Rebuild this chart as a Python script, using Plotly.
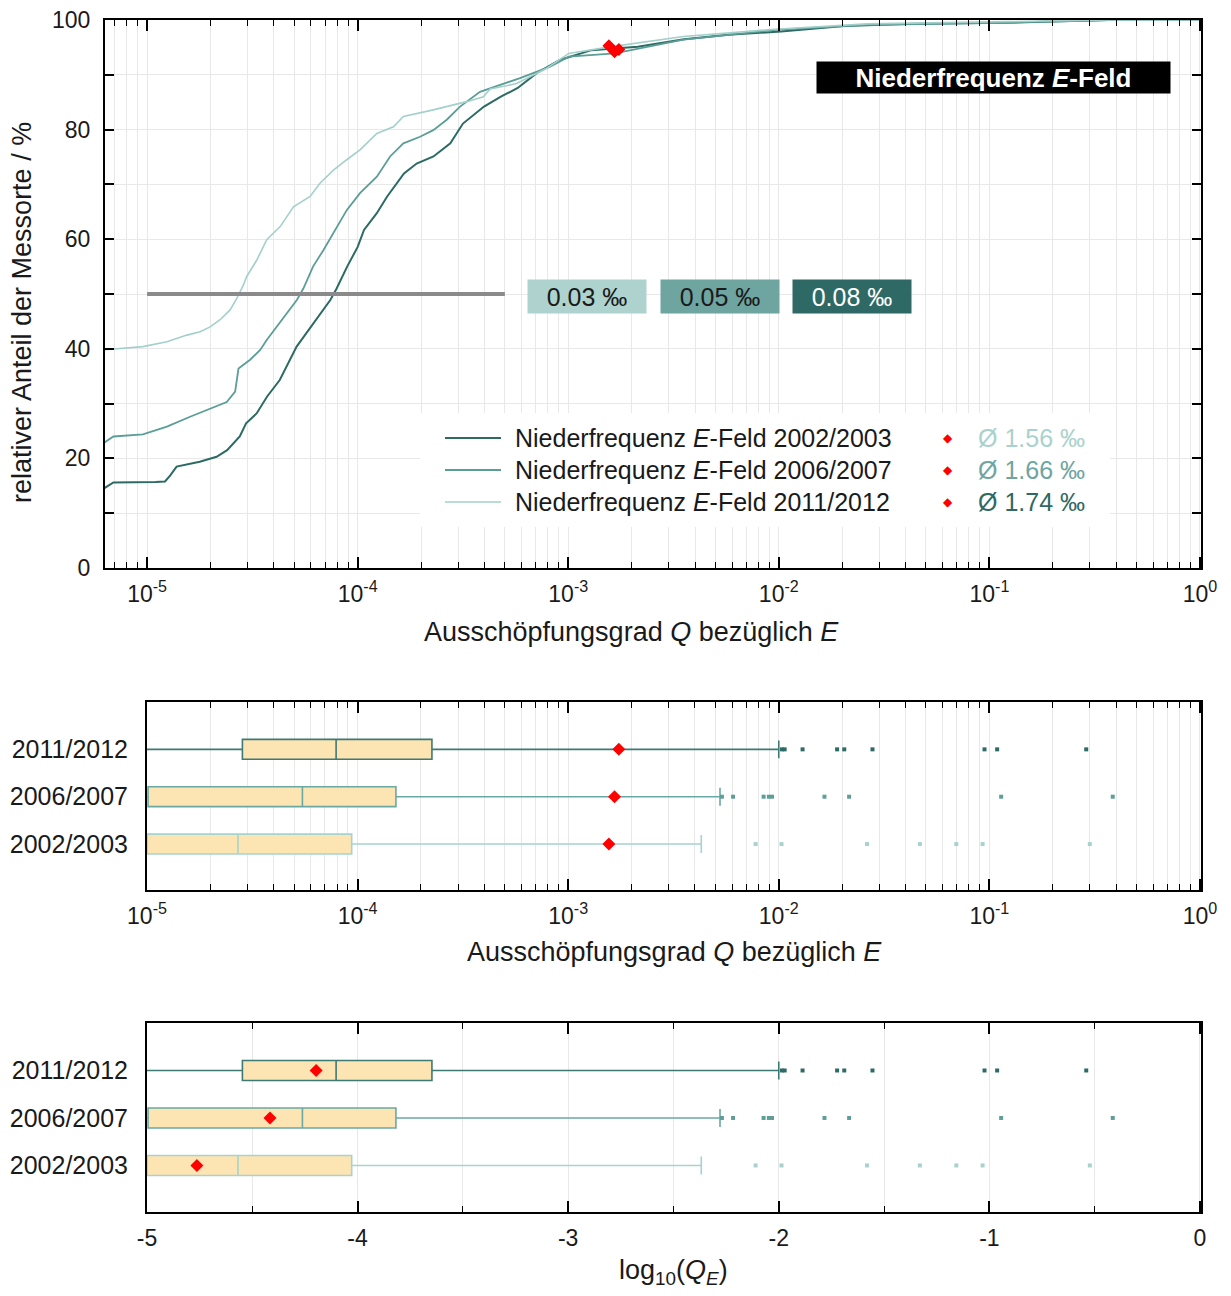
import plotly.graph_objects as go

W, H = 1231, 1296

# ---------------- data ----------------
years = ["2002/2003", "2006/2007", "2011/2012"]

# top panel: cumulative curves, log10(Q) and percent of sites
cdf_a_logq = [-5.21, -5.16, -4.96, -4.915, -4.89, -4.86, -4.75, -4.67, -4.62, -4.56, -4.53, -4.48, -4.43,
              -4.37, -4.29, -4.21, -4.13, -4.10, -4.05, -4.00, -3.97, -3.91, -3.86, -3.78, -3.72, -3.64,
              -3.56, -3.50, -3.40, -3.32, -3.24, -3.15, -3.04, -2.89, -2.67, -2.45, -2.24, -1.99, -1.69,
              -1.36, -0.93, -0.43, 0.0]
cdf_a_pct = [14.4, 15.6, 15.7, 15.8, 16.9, 18.5, 19.4, 20.3, 21.5, 24.0, 26.4, 28.2, 31.3, 34.3, 40.4,
             44.7, 48.9, 51.0, 55.0, 58.6, 61.7, 64.7, 67.8, 72.0, 73.8, 75.1, 77.5, 81.1, 84.2, 86.0,
             87.6, 90.3, 92.7, 94.5, 95.1, 96.5, 97.3, 97.9, 98.9, 99.3, 99.5, 100, 100]

cdf_b_logq = [-5.21, -5.16, -5.02, -4.906, -4.796, -4.701, -4.622, -4.582, -4.566, -4.511, -4.463, -4.432,
              -4.384, -4.345, -4.289, -4.258, -4.212, -4.163, -4.115, -4.052, -3.989, -3.909, -3.846,
              -3.783, -3.704, -3.641, -3.577, -3.514, -3.419, -3.324, -3.229, -3.086, -2.997, -2.779,
              -2.453, -2.018, -1.581, -0.928, -0.43, 0.0]
cdf_b_pct = [22.7, 24.0, 24.4, 25.8, 27.6, 29.1, 30.3, 32.2, 36.4, 38.0, 39.8, 41.6, 44.0, 45.9, 48.9,
             51.0, 55.0, 58.0, 61.1, 65.3, 68.4, 71.4, 75.1, 77.5, 78.7, 79.9, 81.8, 84.2, 86.9, 88.1,
             89.4, 91.5, 93.3, 93.9, 96.4, 98.2, 99.1, 99.5, 100, 100]

cdf_c_logq = [-5.21, -5.02, -4.906, -4.811, -4.748, -4.701, -4.653, -4.606, -4.574, -4.543, -4.527, -4.479,
              -4.432, -4.368, -4.305, -4.226, -4.179, -4.115, -4.052, -3.989, -3.909, -3.830, -3.783,
              -3.641, -3.482, -3.403, -3.371, -3.245, -3.102, -2.997, -2.802, -2.453, -2.018, -1.581,
              -0.928, -0.43, 0.0]
cdf_c_pct = [39.8, 40.4, 41.3, 42.5, 43.1, 44.0, 45.3, 47.1, 49.2, 51.6, 53.2, 56.2, 59.9, 62.3, 65.9,
             67.8, 70.2, 72.6, 74.5, 76.3, 79.3, 80.5, 82.4, 83.6, 85.1, 86.0, 87.4, 88.4, 91.2, 93.9,
             95.1, 97.0, 98.3, 99.3, 99.7, 100, 100]

median_line_q = [1e-5, 5e-4]
median_line_pct = [50, 50]
median_labels = ["0.03 ‰", "0.05 ‰", "0.08 ‰"]

mean_q = [1.56e-3, 1.66e-3, 1.74e-3]          # per year (2002/03, 2006/07, 2011/12)
mean_pct_top = [95.3, 94.2, 94.6]
mean_labels = ["Ø 1.56 ‰", "Ø 1.66 ‰", "Ø 1.74 ‰"]

# box statistics in log10(Q), order: 2002/2003, 2006/2007, 2011/2012
box_pos = [0, 1, 2]
box_lower = [-5.3, -5.3, -5.3]
box_q1 = [-5.0, -4.995, -4.547]
box_median = [-4.568, -4.262, -4.102]
box_q3 = [-4.028, -3.818, -3.647]
box_upper = [-2.368, -2.279, -2.0]
mean_log = [-4.763, -4.416, -4.197]

outliers_log = [
    [-2.110, -1.987, -1.581, -1.330, -1.157, -1.032, -0.523],
    [-2.270, -2.217, -2.072, -2.047, -2.032, -1.783, -1.666, -0.944, -0.414],
    [-1.985, -1.972, -1.887, -1.723, -1.689, -1.555, -1.023, -0.963, -0.540],
]

decades = [-5, -4, -3, -2, -1, 0]

# ---------------- styles ----------------
FONT = "Liberation Sans, Arial, sans-serif"
TXT = "#1a1a1a"
DARK, MED, LIGHT = "#2c6a64", "#5b9e97", "#a3d0ca"
curve_colors = [DARK, MED, LIGHT]
curve_widths = [2.0, 1.8, 1.6]
box_line_colors = ["#a6d3ce", "#6aa9a3", "#3d7a74"]
outlier_colors = ["#a9d2cd", "#5f9e98", "#2f6b66"]
BOXFILL = "#fde4b3"
GRID = "#e8e8e8"
label_bg = ["#aed3cf", "#6fa5a0", "#2f6965"]
label_fg = [TXT, TXT, "white"]
mean_fg = ["#a9d2cd", "#6fa5a0", "#2f6965"]


def fx(px):
    return px / W


def fy(py):
    return 1 - py / H


fig = go.Figure()

# ---------- top panel ----------
cdfs = [(cdf_a_logq, cdf_a_pct), (cdf_b_logq, cdf_b_pct), (cdf_c_logq, cdf_c_pct)]
for (lq, pc), col, lw in zip(cdfs, curve_colors, curve_widths):
    fig.add_trace(go.Scatter(x=[10 ** v for v in lq], y=pc, mode="lines",
                             line=dict(color=col, width=lw), xaxis="x", yaxis="y",
                             showlegend=False, hoverinfo="skip"))

fig.add_trace(go.Scatter(x=median_line_q, y=median_line_pct, mode="lines",
                         line=dict(color="#8a8a8a", width=4), xaxis="x", yaxis="y",
                         showlegend=False))
fig.add_trace(go.Scatter(x=mean_q, y=mean_pct_top, mode="markers",
                         marker=dict(symbol="diamond", size=10, color="#ff0000"),
                         xaxis="x", yaxis="y", showlegend=False))

# ---------- middle (log Q) and bottom (log10 Q) panels ----------
for i in range(3):
    for ax_x, ax_y, conv in (("x2", "y2", lambda v: 10 ** v), ("x3", "y3", lambda v: v)):
        fig.add_trace(go.Box(
            y=[box_pos[i]], q1=[conv(box_q1[i])], median=[conv(box_median[i])],
            q3=[conv(box_q3[i])], lowerfence=[conv(box_lower[i])], upperfence=[conv(box_upper[i])],
            orientation="h", width=0.42, whiskerwidth=0.9, fillcolor=BOXFILL,
            line=dict(color=box_line_colors[i], width=1.6), boxpoints=False,
            xaxis=ax_x, yaxis=ax_y, showlegend=False, hoverinfo="skip"))
        fig.add_trace(go.Scatter(
            x=[conv(v) for v in outliers_log[i]], y=[box_pos[i]] * len(outliers_log[i]),
            mode="markers", marker=dict(symbol="square", size=4, color=outlier_colors[i]),
            xaxis=ax_x, yaxis=ax_y, showlegend=False))

fig.add_trace(go.Scatter(x=mean_q, y=box_pos, mode="markers",
                         marker=dict(symbol="diamond", size=10, color="#ff0000"),
                         xaxis="x2", yaxis="y2", showlegend=False))
fig.add_trace(go.Scatter(x=mean_log, y=box_pos, mode="markers",
                         marker=dict(symbol="diamond", size=10, color="#ff0000"),
                         xaxis="x3", yaxis="y3", showlegend=False))

# ---------- axes ----------
dec_vals = [10 ** d for d in decades]
dec_text = ["10<sup>%d</sup>" % d for d in decades]
common_line = dict(showline=True, linecolor="black", linewidth=2, mirror="ticks",
                   tickcolor="black", zeroline=False, automargin=False)
minor_log = dict(dtick="D1", ticks="inside", ticklen=6, tickwidth=1.2, tickcolor="black",
                 showgrid=True, gridcolor=GRID, gridwidth=1)

fig.update_layout(
    width=W, height=H, margin=dict(l=0, r=0, t=0, b=0),
    paper_bgcolor="white", plot_bgcolor="white",
    font=dict(family=FONT, size=23, color=TXT),
    showlegend=False,
    xaxis=dict(type="log", range=[-5.2, 0.005], domain=[fx(105), fx(1201)], anchor="y",
               tickmode="array", tickvals=dec_vals, ticktext=dec_text,
               ticks="inside", ticklen=11, tickwidth=1.6, showgrid=True, gridcolor=GRID,
               minor=minor_log, ticklabelstandoff=4, **common_line),
    yaxis=dict(range=[0, 100], domain=[fy(568), fy(20)], anchor="x",
               tickmode="linear", tick0=0, dtick=20,
               ticks="inside", ticklen=9, tickwidth=1.6, showgrid=True, gridcolor=GRID,
               minor=dict(dtick=10, ticks="inside", ticklen=9, tickwidth=1.6, tickcolor="black",
                          showgrid=True, gridcolor=GRID),
               ticklabelstandoff=8, **common_line),
    xaxis2=dict(type="log", range=[-5, 0.005], domain=[fx(147), fx(1201)], anchor="y2",
                tickmode="array", tickvals=dec_vals, ticktext=dec_text,
                ticks="inside", ticklen=11, tickwidth=1.6, showgrid=True, gridcolor=GRID,
                minor=minor_log, ticklabelstandoff=4, **common_line),
    yaxis2=dict(range=[-0.97, 3.0], domain=[fy(890), fy(702)], anchor="x2",
                tickmode="array", tickvals=box_pos, ticktext=years, ticks="",
                showgrid=False, tickfont=dict(size=25), ticklabelstandoff=12, automargin=False,
                showline=True, linecolor="black", linewidth=2, mirror=True, zeroline=False),
    xaxis3=dict(range=[-5, 0.005], domain=[fx(147), fx(1201)], anchor="y3",
                tickmode="array", tickvals=decades, ticktext=[str(d) for d in decades],
                ticks="inside", ticklen=11, tickwidth=1.6, showgrid=True, gridcolor=GRID,
                minor=dict(dtick=0.5, ticks="inside", ticklen=6, tickwidth=1.2, tickcolor="black",
                           showgrid=True, gridcolor=GRID),
                ticklabelstandoff=4, **common_line),
    yaxis3=dict(range=[-0.98, 3.0], domain=[fy(1212), fy(1023)], anchor="x3",
                tickmode="array", tickvals=box_pos, ticktext=years, ticks="",
                showgrid=False, tickfont=dict(size=25), ticklabelstandoff=12, automargin=False,
                showline=True, linecolor="black", linewidth=2, mirror=True, zeroline=False),
)

# ---------- decorations ----------
shapes = []
# white legend background (covers grid lines; no data lies under it)
shapes.append(dict(type="rect", xref="paper", yref="paper",
                   x0=fx(420), x1=fx(1110), y0=fy(527), y1=fy(413),
                   fillcolor="white", line=dict(width=0), layer="above"))
legend_rows = [438, 470, 502]
for row, col, lw in zip(legend_rows, curve_colors, curve_widths):
    shapes.append(dict(type="line", xref="paper", yref="paper",
                       x0=fx(445), x1=fx(501), y0=fy(row), y1=fy(row),
                       line=dict(color=col, width=lw), layer="above"))
fig.update_layout(shapes=shapes)

ann = []
for row, yr in zip(legend_rows, years):
    ann.append(dict(x=fx(513), y=fy(row), xref="paper", yref="paper", xanchor="left",
                    yanchor="middle", showarrow=False,
                    text="Niederfrequenz <i>E</i>-Feld " + yr, font=dict(size=25, color=TXT)))
for row, lab, col in zip(legend_rows, mean_labels, mean_fg):
    ann.append(dict(x=fx(948), y=fy(row), xref="paper", yref="paper", xanchor="center",
                    yanchor="middle", showarrow=False, text="◆",
                    font=dict(size=12, color="#ff0000", family="DejaVu Sans")))
    ann.append(dict(x=fx(976), y=fy(row), xref="paper", yref="paper", xanchor="left",
                    yanchor="middle", showarrow=False, text=lab, font=dict(size=25, color=col)))

for cx, lab, bg, fg in zip([587, 719.5, 851.5], median_labels, label_bg, label_fg):
    ann.append(dict(x=fx(cx), y=fy(296.5), xref="paper", yref="paper", xanchor="center",
                    yanchor="middle", showarrow=False, text=lab, font=dict(size=25, color=fg),
                    bgcolor=bg, width=114, height=29, borderpad=2))

ann.append(dict(x=fx(993.5), y=fy(77.5), xref="paper", yref="paper", xanchor="center",
                yanchor="middle", showarrow=False,
                text="<b>Niederfrequenz <i>E</i>-Feld</b>", font=dict(size=26, color="white"),
                bgcolor="black", width=349, height=27, borderpad=2))

ann.append(dict(x=fx(22), y=fy(313), xref="paper", yref="paper", xanchor="center",
                yanchor="middle", showarrow=False, textangle=-90,
                text="relativer Anteil der Messorte / %", font=dict(size=27, color=TXT)))
ann.append(dict(x=fx(631), y=fy(632), xref="paper", yref="paper", xanchor="center",
                yanchor="middle", showarrow=False,
                text="Ausschöpfungsgrad <i>Q</i> bezüglich <i>E</i>", font=dict(size=27, color=TXT)))
ann.append(dict(x=fx(674), y=fy(952), xref="paper", yref="paper", xanchor="center",
                yanchor="middle", showarrow=False,
                text="Ausschöpfungsgrad <i>Q</i> bezüglich <i>E</i>", font=dict(size=27, color=TXT)))
ann.append(dict(x=fx(673), y=fy(1272), xref="paper", yref="paper", xanchor="center",
                yanchor="middle", showarrow=False,
                text="log<sub>10</sub>(<i>Q</i><sub><i>E</i></sub>)", font=dict(size=27, color=TXT)))
fig.update_layout(annotations=ann)

fig.write_html("out.html")
